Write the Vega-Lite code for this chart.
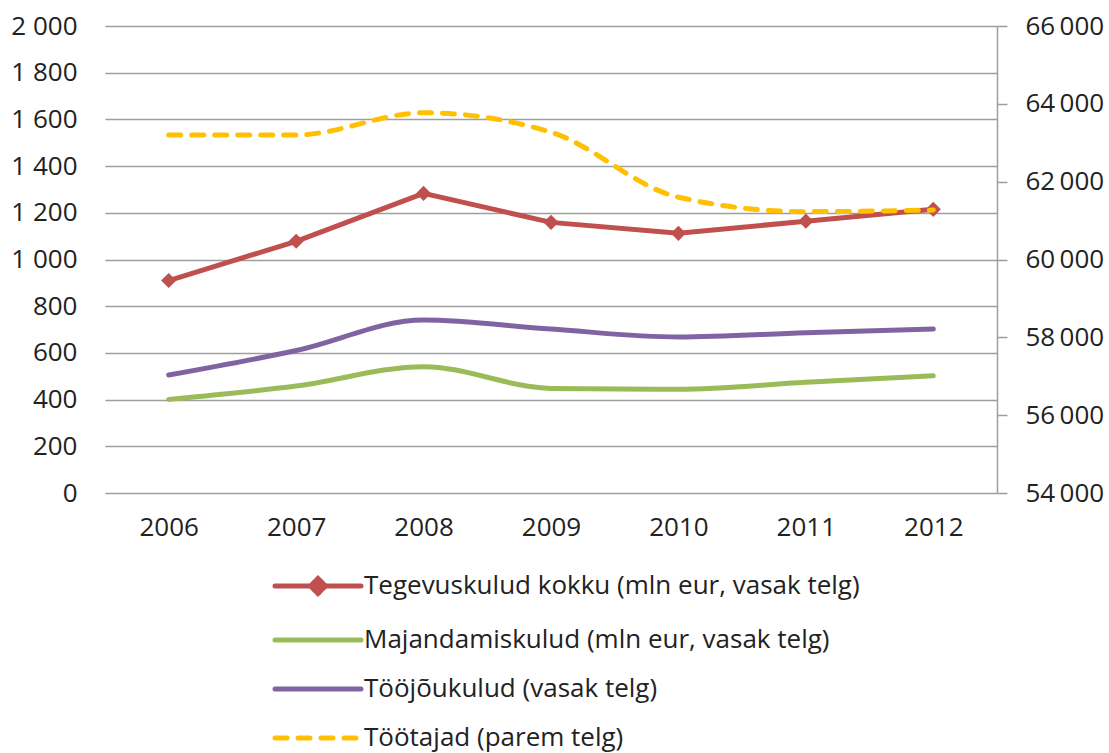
{
  "$schema": "https://vega.github.io/schema/vega-lite/v6.json",
  "width": 892,
  "height": 467,
  "autosize": "none",
  "padding": {"left": 105, "top": 26, "right": 112, "bottom": 260},
  "background": "white",
  "data": {
    "values": [
      {"year": "2006", "series": "Tegevuskulud kokku (mln eur, vasak telg)", "value": 910},
      {"year": "2007", "series": "Tegevuskulud kokku (mln eur, vasak telg)", "value": 1078},
      {"year": "2008", "series": "Tegevuskulud kokku (mln eur, vasak telg)", "value": 1283},
      {"year": "2009", "series": "Tegevuskulud kokku (mln eur, vasak telg)", "value": 1159},
      {"year": "2010", "series": "Tegevuskulud kokku (mln eur, vasak telg)", "value": 1112},
      {"year": "2011", "series": "Tegevuskulud kokku (mln eur, vasak telg)", "value": 1164},
      {"year": "2012", "series": "Tegevuskulud kokku (mln eur, vasak telg)", "value": 1215},
      {"year": "2006", "series": "Majandamiskulud (mln eur, vasak telg)", "value": 401},
      {"year": "2007", "series": "Majandamiskulud (mln eur, vasak telg)", "value": 458},
      {"year": "2008", "series": "Majandamiskulud (mln eur, vasak telg)", "value": 541},
      {"year": "2009", "series": "Majandamiskulud (mln eur, vasak telg)", "value": 448},
      {"year": "2010", "series": "Majandamiskulud (mln eur, vasak telg)", "value": 444},
      {"year": "2011", "series": "Majandamiskulud (mln eur, vasak telg)", "value": 474},
      {"year": "2012", "series": "Majandamiskulud (mln eur, vasak telg)", "value": 502},
      {"year": "2006", "series": "Tööjõukulud (vasak telg)", "value": 505},
      {"year": "2007", "series": "Tööjõukulud (vasak telg)", "value": 610},
      {"year": "2008", "series": "Tööjõukulud (vasak telg)", "value": 741},
      {"year": "2009", "series": "Tööjõukulud (vasak telg)", "value": 702},
      {"year": "2010", "series": "Tööjõukulud (vasak telg)", "value": 668},
      {"year": "2011", "series": "Tööjõukulud (vasak telg)", "value": 686},
      {"year": "2012", "series": "Tööjõukulud (vasak telg)", "value": 702},
      {"year": "2006", "series": "Töötajad (parem telg)", "value": 63200},
      {"year": "2007", "series": "Töötajad (parem telg)", "value": 63200},
      {"year": "2008", "series": "Töötajad (parem telg)", "value": 63770},
      {"year": "2009", "series": "Töötajad (parem telg)", "value": 63270},
      {"year": "2010", "series": "Töötajad (parem telg)", "value": 61600},
      {"year": "2011", "series": "Töötajad (parem telg)", "value": 61230},
      {"year": "2012", "series": "Töötajad (parem telg)", "value": 61270}
    ]
  },
  "encoding": {
    "x": {
      "field": "year",
      "type": "ordinal",
      "scale": {"type": "point", "padding": 0.5},
      "axis": {
        "title": null,
        "labelAngle": 0,
        "domain": false,
        "ticks": false,
        "grid": false,
        "labelPadding": 21,
        "labelFontSize": 26,
        "labelColor": "#222222",
        "labelFont": "Open Sans"
      }
    },
    "color": {
      "field": "series",
      "type": "nominal",
      "scale": {
        "domain": [
          "Tegevuskulud kokku (mln eur, vasak telg)",
          "Majandamiskulud (mln eur, vasak telg)",
          "Tööjõukulud (vasak telg)",
          "Töötajad (parem telg)"
        ],
        "range": ["#C0504D", "#9BBB59", "#8064A2", "#FFC000"]
      },
      "legend": {
        "title": null,
        "orient": "none",
        "legendX": 200,
        "legendY": 547,
        "direction": "vertical",
        "symbolType": "M-4.3,0H4.3",
        "symbolSize": 400,
        "symbolStrokeWidth": 5,
        "labelFontSize": 26,
        "labelFont": "Open Sans",
        "labelColor": "#222222",
        "labelOffset": 33,
        "rowPadding": 23,
        "labelLimit": 700,
        "encode": {
          "symbols": {
            "update": {
              "shape": {"signal": "datum.value == 'Tegevuskulud kokku (mln eur, vasak telg)' ? 'M-4.3,0H4.3M0,-0.75L0.75,0L0,0.75L-0.75,0Z' : 'M-4.3,0H4.3'"},
              "fill": {"signal": "datum.value == 'Tegevuskulud kokku (mln eur, vasak telg)' ? '#C0504D' : 'transparent'"},
              "strokeDash": {"signal": "datum.value == 'Töötajad (parem telg)' ? [12, 11] : [1, 0]"},
              "strokeCap": {"value": "round"}
            }
          }
        }
      }
    }
  },
  "layer": [
    {
      "layer": [
        {
          "transform": [{"filter": "datum.series == 'Majandamiskulud (mln eur, vasak telg)' || datum.series == 'Tööjõukulud (vasak telg)'"}],
          "mark": {"type": "line", "strokeWidth": 5, "interpolate": "monotone", "strokeCap": "round"},
          "encoding": {
            "y": {
              "field": "value",
              "type": "quantitative",
              "scale": {"domain": [0, 2000], "nice": false},
              "axis": {
                "orient": "left",
                "title": null,
                "values": [0, 200, 400, 600, 800, 1000, 1200, 1400, 1600, 1800, 2000],
                "format": ",d",
                "domain": false,
                "ticks": false,
                "tickSize": 0,
                "grid": true,
                "gridColor": "#9E9E9E",
                "gridWidth": 1.5,
                "labelPadding": 28,
                "labelFontSize": 26,
                "labelFont": "Open Sans",
                "labelColor": "#222222"
              }
            }
          }
        },
        {
          "transform": [{"filter": "datum.series == 'Tegevuskulud kokku (mln eur, vasak telg)'"}],
          "mark": {"type": "line", "strokeWidth": 5, "point": {"shape": "diamond", "size": 230, "filled": true}},
          "encoding": {
            "y": {"field": "value", "type": "quantitative"}
          }
        }
      ]
    },
    {
      "transform": [{"filter": "datum.series == 'Töötajad (parem telg)'"}],
      "mark": {"type": "line", "strokeWidth": 5, "interpolate": "monotone", "strokeDash": [12, 11], "strokeCap": "round"},
      "encoding": {
        "y": {
          "field": "value",
          "type": "quantitative",
          "scale": {"domain": [54000, 66000], "nice": false, "zero": false},
          "axis": {
            "orient": "right",
            "title": null,
            "values": [54000, 56000, 58000, 60000, 62000, 64000, 66000],
            "format": ",d",
            "labelExpr": "replace(datum.label, ' ', '\u2009')",
            "domain": true,
            "domainColor": "#9E9E9E",
            "domainWidth": 1.5,
            "ticks": true,
            "tickColor": "#9E9E9E",
            "tickWidth": 1.5,
            "tickSize": 10,
            "grid": false,
            "labelPadding": 18,
            "labelFontSize": 26,
            "labelFont": "Open Sans",
            "labelColor": "#222222"
          }
        }
      }
    }
  ],
  "resolve": {"scale": {"y": "independent"}},
  "config": {
    "view": {"stroke": null},
    "locale": {
      "number": {
        "decimal": ",",
        "thousands": " ",
        "grouping": [3],
        "currency": ["", " €"]
      }
    }
  }
}
